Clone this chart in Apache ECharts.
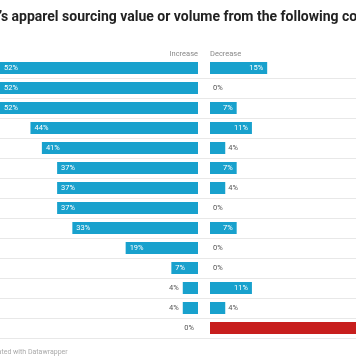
<!DOCTYPE html>
<html><head><meta charset="utf-8">
<script src="https://cdn.jsdelivr.net/npm/echarts@6/dist/echarts.min.js"></script>
<style>html,body{margin:0;padding:0;background:#fff;}#c{width:356px;height:364px;}</style>
</head><body><div id="c"></div>
<script>
const rows = ['r1','r2','r3','r4','r5','r6','r7','r8','r9','r10','r11','r12','r13','r14'];
const increase = [52,52,52,44,41,37,37,37,33,19,7,4,4,0];
const decrease = [15,0,7,11,4,7,4,0,7,0,0,11,4,60];
const highlightRow = 13;
const titleText = "\u2019s apparel sourcing value or volume from the following countries";
const headerInc = 'Increase';
const headerDec = 'Decrease';
const footer = 'Created with Datawrapper';

const BLUE = '#18a1cd', RED = '#c71e1d';
const chart = echarts.init(document.getElementById('c'));
const FONT = 'Roboto';
const lblBase = {show:true, formatter:'{c}%', fontFamily:FONT, fontSize:7.5};
const incData = increase.map(v => ({value:v, label: v >= 7 ? {position:'insideLeft', color:'#fff', distance:4} : {position:'left', color:'#555', distance:4}}));
const decData = decrease.map((v,i) => {
  const o = {value:v, label: v >= 7 ? {position:'insideRight', color:'#fff', distance:4} : {position:'right', color:'#555', distance:3}};
  if (i === highlightRow) { o.itemStyle = {color: RED}; o.label = {show:false}; }
  return o;
});
const TOP = 58, H = 280;
chart.setOption({
  animation:false,
  grid:[
    {left:0, right:0, top:TOP, height:H},
    {left:0, width:198, top:TOP, height:H},
    {left:210, right:0, top:TOP, height:H}
  ],
  xAxis:[
    {gridIndex:0, type:'value', min:0, max:1, show:false},
    {gridIndex:1, type:'value', min:0, max:52, inverse:true, show:false},
    {gridIndex:2, type:'value', min:0, max:38.3, show:false}
  ],
  yAxis:[
    {gridIndex:0, type:'category', data:rows, inverse:true, axisLine:{show:false}, axisTick:{show:false}, axisLabel:{show:false},
     splitLine:{show:true, lineStyle:{color:'#e8e8e8', width:1}, interval:(i)=> i>0}},
    {gridIndex:1, type:'category', data:rows, inverse:true, show:false},
    {gridIndex:2, type:'category', data:rows, inverse:true, show:false}
  ],
  graphic:[
    {type:'text', left:-1, top:10, style:{text:titleText, font:'bold 14px Roboto', fill:'#222'}},
    {type:'text', right:158, top:50, style:{text:headerInc, font:'7.5px Roboto', fill:'#888'}},
    {type:'text', left:210, top:50, style:{text:headerDec, font:'7.5px Roboto', fill:'#888'}},
    {type:'text', left:-13, top:349, style:{text:footer, font:'7px Roboto', fill:'#aaa'}}
  ],
  series:[
    {type:'bar', xAxisIndex:1, yAxisIndex:1, data:incData, barWidth:12, itemStyle:{color:BLUE}, label:lblBase},
    {type:'bar', xAxisIndex:2, yAxisIndex:2, data:decData, barWidth:12, itemStyle:{color:BLUE}, label:lblBase}
  ]
});
</script></body></html>
